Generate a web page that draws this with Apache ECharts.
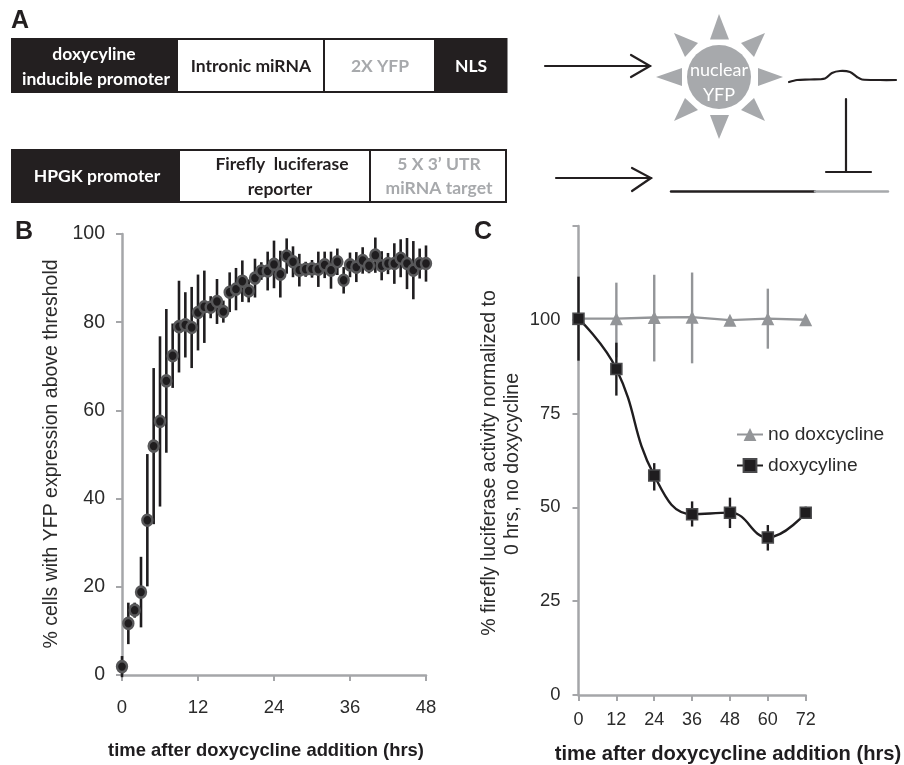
<!DOCTYPE html>
<html><head><meta charset="utf-8">
<style>html,body{margin:0;padding:0;background:#fff}#c{width:904px;height:765px}</style>
<script src="https://cdn.jsdelivr.net/npm/echarts@6/dist/echarts.min.js"></script>
</head><body><div id="c"></div>
<script>
// Panel B
const hoursB = [0,1,2,3,4,5,6,7,8,9,10,11,12,13,14,15,16,17,18,19,20,21,22,23,24,25,26,27,28,29,30,31,32,33,34,35,36,37,38,39,40,41,42,43,44,45,46,47,48];
const meanB = [1.9,11.7,14.7,18.8,35.1,51.9,57.5,66.7,72.4,79,79.4,78.8,82.2,83.5,83.4,84.7,82.4,86.8,87.5,89.3,87.1,90,91.6,91.6,93.1,90.9,95,93.7,91.8,92,92.1,92,93,91.8,93.7,89.5,93,92.5,94,92.8,95.2,92.8,93.3,93.3,94.5,93.3,91.8,93.3,93.3];
const errB = [2.4,4.7,1.7,8,15,17.7,19.3,16.3,7.3,10.4,7.4,9.2,8.6,8.2,2.5,5.1,2.5,4.5,4.8,4.7,2.6,4.4,2,4.4,5.4,5.3,4,3.5,3.7,1.7,2,4,3,4.2,3,3,2.8,3.4,3,1.7,4,3.3,2.4,4.6,4.3,5.8,6.6,3.4,4.1];
// Panel C
const hoursC = [0,12,24,36,48,60,72];
const noDox = [100.3,100.3,100.6,100.7,99.9,100.3,100];
const noDoxHi = [100.3,109.9,112,112.6,99.9,108.3,100];
const noDoxLo = [100.3,90,88.9,88.4,99.9,92.3,100];
const dox = [100.3,86.9,58.5,48.2,48.6,42,48.6];
const doxHi = [111.5,93.9,61.8,51.6,52.6,45.3,50.2];
const doxLo = [89.1,79.8,54.5,44.9,44.5,38.5,47];
const ticksB = [0,20,40,60,80,100];
const ticksC = [0,25,50,75,100];
const legendNames = ['no doxcycline','doxycyline'];
const xTitle = 'time after doxycycline addition (hrs)';

const AX = '#a5a6a9', INK = '#1f1d1f', GREY = '#939598', SANS = '"Liberation Sans",Arial,sans-serif', CAL = 'Lato,"Open Sans",sans-serif';

function errSeries(xAxisIndex, xs, hi, lo, color, width, z){
  return {type:'custom', xAxisIndex, yAxisIndex:xAxisIndex, z, silent:true, clip:false,
    data: xs.map((x,i)=>[x,hi[i],lo[i]]),
    renderItem:(p,api)=>{
      const a=api.coord([api.value(0),api.value(1)]), b=api.coord([api.value(0),api.value(2)]);
      return {type:'line',shape:{x1:a[0],y1:a[1],x2:b[0],y2:b[1]},style:{stroke:color,lineWidth:width}};
    }};
}
function axis(extra){
  return Object.assign({type:'value',splitLine:{show:false},
    axisLine:{show:true,onZero:false,lineStyle:{color:AX,width:2.5}},
    axisTick:{show:true,length:6,lineStyle:{color:AX,width:2}},
    axisLabel:{color:'#2b2b2b',fontFamily:SANS,fontSize:17}},extra);
}
// schematic helpers
function box(x,y,w,h,black){return {type:'rect',shape:{x,y,width:w,height:h},style:{fill:black?'#231f20':'#fff',stroke:'#231f20',lineWidth:2}};}
function label(text,x,y,color,size,font,weight){return {type:'text',x,y,style:{text,fill:color,font:(weight||'bold')+' '+(size||17.5)+'px '+(font||CAL),textAlign:'center',textVerticalAlign:'middle'},z:5};}
function stroke(pts,color,w,smooth){return {type:'polyline',shape:{points:pts,smooth:smooth||0},style:{fill:'none',stroke:color||'#231f20',lineWidth:w||2.2,lineCap:'round'}};}
function tri(pts){return {type:'polygon',shape:{points:pts},style:{fill:'#a7a9ac'}};}
function title(text,x,y,size,bold,rot){return {type:'text',x,y,rotation:rot?Math.PI/2:0,style:{text,fill:bold?'#1f1d1f':'#2b2b2b',font:(bold?'bold ':'')+size+'px '+SANS,textAlign:'center',textVerticalAlign:'middle'}};}

const graphic = [
  box(12,39,165,53,true),box(177,39,147,53,false),box(324,39,111,53,false),box(435,39,71.5,53,true),
  box(12,150,167,52,true),box(179,150,191,52,false),box(370,150,136,52,false),
  label('doxycyline',94,54,'#fff'),label('inducible promoter',96,79,'#fff'),
  label('Intronic miRNA',251,66,'#231f20'),label('2X YFP',380,66,'#a7a9ac'),label('NLS',471,66,'#fff'),
  label('HPGK promoter',97,176,'#fff'),label('Firefly  luciferase',282,164,'#231f20'),label('reporter',280,189,'#231f20'),
  label('5 X 3\u2019 UTR',439,164,'#a7a9ac'),label('miRNA target',439,188,'#a7a9ac'),
  label('A',20,21,'#231f20',25,SANS),label('B',24,232,'#231f20',25,SANS),label('C',483,232,'#231f20',25,SANS),
  {type:'circle',shape:{cx:719,cy:77,r:32},style:{fill:'#a7a9ac'}},
  tri([[719,14],[710,39.5],[729,39.5]]),tri([[719,139],[710,115],[729,115]]),
  tri([[656,77],[682,68],[682,86]]),tri([[783,77],[758,68],[758,86]]),
  tri([[674,33],[698,43],[685,57]]),tri([[765,33],[741,43],[754,57]]),
  tri([[674,121],[698,110],[685,98]]),tri([[765,121],[741,110],[754,98]]),
  label('nuclear',719,70,'#fff',18,CAL,'normal'),label('YFP',719,95,'#fff',18,CAL,'normal'),
  stroke([[545,66],[650,66]]),stroke([[631,55],[650,66],[631,77]]),
  stroke([[556,178],[651,178]]),stroke([[632,168],[651,178],[632,191]]),
  stroke([[789,82],[797,80],[810,79.5],[825,78.5],[832,73],[840,71],[850,72],[857,77],[862,79.5],[880,80],[896,80]],'#231f20',2.2,0.3),
  stroke([[846,99],[846,172]]),stroke([[826,172],[871,172]]),
  stroke([[671,191.5],[815,191.5]],'#231f20',2.4),stroke([[815,191.5],[888,191.5]],'#a7a9ac',2.4),
  title('% cells with YFP expression above threshold',52,454,19.5,false,true),
  title('% firefly luciferase activity normalized to',490,463,19.5,false,true),
  title('0 hrs, no doxycycline',513,464,19.5,false,true),
  title(xTitle,266,751,18.4,true),
  title(xTitle,728,754,20.2,true)
];

const chart = echarts.init(document.getElementById('c'),null,{renderer:'canvas'});
chart.setOption({
  animation:false, backgroundColor:'#fff', graphic,
  grid:[{left:122,top:234,width:304,height:441},{left:578.5,top:226,width:227.2,height:469}],
  xAxis:[
    axis({gridIndex:0,min:0,max:48,interval:12,axisLabel:{color:'#2b2b2b',fontFamily:SANS,fontSize:18.5,margin:23}}),
    axis({gridIndex:1,min:0,max:72,interval:12,axisLabel:{color:'#2b2b2b',fontFamily:SANS,fontSize:18,margin:16}})
  ],
  yAxis:[
    axis({gridIndex:0,min:0,max:100,interval:20,axisLabel:{color:'#2b2b2b',fontFamily:SANS,fontSize:19.5,margin:17,
      formatter:v=>ticksB.includes(v)?String(v):''}}),
    axis({gridIndex:1,min:0,max:125,interval:25,axisLabel:{color:'#2b2b2b',fontFamily:SANS,fontSize:18.4,margin:18,
      formatter:v=>ticksC.includes(v)?String(v):''}})
  ],
  legend:{left:731,top:420,orient:'vertical',itemWidth:26,itemHeight:16,itemGap:12,
    data:legendNames,textStyle:{color:'#2b2b2b',fontFamily:SANS,fontSize:19.2}},
  series:[
    errSeries(0,hoursB,meanB.map((m,i)=>m+errB[i]),meanB.map((m,i)=>m-errB[i]),INK,2.6,2),
    {type:'scatter',xAxisIndex:0,yAxisIndex:0,z:3,clip:false,symbol:'circle',symbolSize:[10,11],
      itemStyle:{color:INK,borderColor:'#58585a',borderWidth:2.5,opacity:1},
      data:hoursB.map((h,i)=>[h,meanB[i]])},
    errSeries(1,hoursC,noDoxHi,noDoxLo,GREY,2.4,2),
    {type:'line',name:legendNames[0],xAxisIndex:1,yAxisIndex:1,z:3,clip:false,symbol:'triangle',symbolSize:13,
      showSymbol:true,lineStyle:{color:GREY,width:2.4},itemStyle:{color:GREY},
      data:hoursC.map((h,i)=>[h,noDox[i]])},
    errSeries(1,hoursC,doxHi,doxLo,INK,2.4,4),
    {type:'line',name:legendNames[1],xAxisIndex:1,yAxisIndex:1,z:5,clip:false,smooth:0.45,symbol:'rect',symbolSize:11,
      lineStyle:{color:INK,width:2.4},itemStyle:{color:INK,borderColor:'#4a4a4c',borderWidth:1.5},
      data:hoursC.map((h,i)=>[h,dox[i]])}
  ]
});
</script></body></html>
